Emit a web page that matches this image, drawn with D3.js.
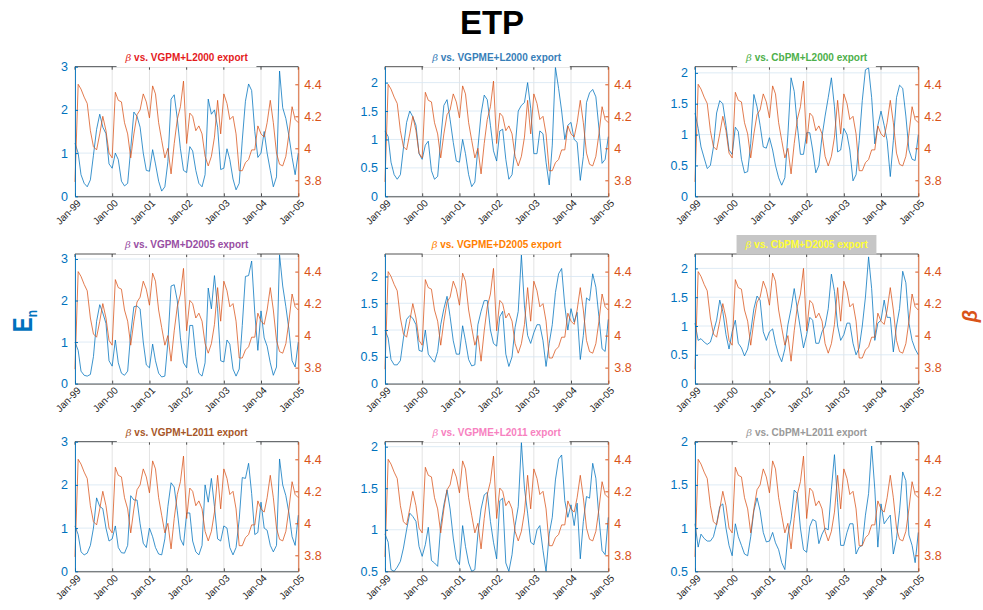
<!DOCTYPE html>
<html>
<head>
<meta charset="utf-8">
<script src="https://cdn.jsdelivr.net/npm/d3@7"></script>
<style>
  html, body { margin: 0; padding: 0; background: #fff; }
  svg { display: block; font-family: "Liberation Sans", Arial, Helvetica, sans-serif; }
</style>
</head>
<body>
<svg id="chart" width="983" height="610"></svg>
<script>
// ---- data -------------------------------------------------------------
// monthly time axis, Jan 1999 .. Jan 2005
const monthCount = 73;
const xTickLabels = ["Jan-99", "Jan-00", "Jan-01", "Jan-02", "Jan-03", "Jan-04", "Jan-05"];

const panelTitles = [
  "VGPM+L2000 export", "VGPME+L2000 export", "CbPM+L2000 export",
  "VGPM+D2005 export", "VGPME+D2005 export", "CbPM+D2005 export",
  "VGPM+L2011 export", "VGPME+L2011 export", "CbPM+L2011 export"
];
const titleColors = ["#e41a1c", "#377eb8", "#4daf4a", "#984ea3", "#ff7f00", "#ffff33", "#a65628", "#f781bf", "#999999"];
const titleBackgrounds = ["#ffffff", "#ffffff", "#ffffff", "#ffffff", "#ffffff", "#c6c6c6", "#ffffff", "#ffffff", "#ffffff"];

// β (right axis), identical in every panel
const beta = [
  3.79, 4.40, 4.37, 4.32, 4.28, 4.11, 4.01, 3.99, 4.09, 4.20, 4.11, 3.97,
  3.94, 4.35, 4.30, 4.29, 4.16, 4.09, 3.94, 4.09, 4.21, 4.24, 4.34, 4.29,
  4.19, 4.39, 4.34, 4.16, 4.05, 3.94, 4.00, 3.84, 4.03, 4.18, 4.26, 4.42,
  4.03, 4.22, 4.20, 4.11, 4.14, 4.09, 3.95, 3.89, 3.95, 4.07, 4.30, 4.09,
  4.34, 4.28, 4.18, 4.20, 4.09, 3.86, 3.86, 3.91, 3.93, 3.99, 3.99, 4.14,
  4.09, 4.07, 4.16, 4.30, 4.16, 3.97, 3.90, 3.89, 3.95, 4.09, 4.26, 4.18,
  4.16
];

// E_n (left axis), one series per export product
const enVgpmL2000 = [
  1.23, 1.00, 0.50, 0.30, 0.22, 0.38, 0.95, 1.55, 1.90, 1.60, 1.45, 0.75,
  0.65, 1.00, 0.85, 0.35, 0.24, 0.30, 1.10, 1.95, 1.85, 1.60, 1.00, 0.60,
  0.58, 1.08, 0.75, 0.35, 0.12, 0.22, 0.80, 2.25, 2.35, 1.80, 1.10, 0.60,
  0.55, 1.15, 1.05, 0.60, 0.30, 0.22, 0.50, 2.25, 1.90, 2.00, 1.60, 0.62,
  0.65, 1.10, 0.85, 0.40, 0.15, 0.30, 1.30, 2.20, 2.60, 2.45, 1.50, 0.90,
  1.00, 1.50, 1.00, 0.60, 0.22, 0.45, 2.90, 2.05, 1.80, 1.40, 0.90, 0.50,
  1.00
];
const enVgpmeL2000 = [
  1.15, 1.05, 0.60, 0.38, 0.30, 0.38, 0.85, 1.30, 1.50, 1.40, 1.25, 0.75,
  0.65, 0.90, 0.97, 0.45, 0.30, 0.35, 1.00, 1.60, 1.70, 1.35, 0.95, 0.62,
  0.60, 1.00, 0.75, 0.38, 0.17, 0.25, 0.85, 1.45, 1.78, 1.70, 1.25, 0.80,
  0.62, 1.15, 1.18, 0.65, 0.30, 0.38, 0.85, 1.50, 1.60, 1.65, 2.00, 1.55,
  0.75, 0.75, 1.15, 1.10, 0.60, 0.20, 0.90, 2.27, 1.90, 1.50, 1.00, 1.25,
  1.30, 1.00, 0.95, 0.28, 0.70, 1.65, 1.82, 1.88, 1.75, 1.20, 0.58, 0.65,
  1.05
];
const enCbpmL2000 = [
  1.35, 1.10, 0.80, 0.62, 0.45, 0.50, 0.80, 1.35, 1.55, 1.50, 1.15, 0.75,
  0.68, 1.12, 1.05, 0.60, 0.38, 0.40, 0.85, 1.65, 1.45, 1.15, 0.80, 0.78,
  0.95, 0.75, 0.50, 0.30, 0.18, 0.30, 1.00, 1.92, 1.70, 1.15, 0.68, 0.68,
  1.03, 1.03, 0.75, 0.38, 0.50, 0.97, 1.30, 1.60, 1.92, 1.45, 0.72, 0.75,
  1.10, 1.00, 0.75, 0.25, 0.35, 0.90, 1.55, 2.05, 2.08, 1.60, 0.85, 1.15,
  1.38, 1.15, 0.90, 0.32, 0.90, 1.60, 1.80, 1.75, 1.30, 0.75, 0.60, 0.58,
  1.00
];
const enVgpmD2005 = [
  1.00, 0.80, 0.30, 0.20, 0.18, 0.22, 0.65, 1.50, 1.90, 1.70, 1.45, 0.55,
  0.42, 1.05, 0.50, 0.25, 0.20, 0.30, 1.20, 1.85, 1.87, 1.80, 1.00, 0.45,
  0.38, 0.95, 0.55, 0.25, 0.16, 0.18, 1.00, 2.35, 2.38, 2.00, 1.10, 0.50,
  0.38, 1.40, 1.40, 0.65, 0.25, 0.18, 0.50, 2.30, 1.80, 2.60, 1.80, 0.55,
  0.52, 1.05, 0.95, 0.35, 0.18, 0.35, 1.40, 2.58, 2.60, 2.95, 1.70, 0.80,
  1.75, 1.10, 0.90, 0.50, 0.20, 0.40, 3.10, 2.35, 1.85, 1.30, 0.55, 0.40,
  1.00
];
const enVgpmeD2005 = [
  1.00, 0.85, 0.45, 0.35, 0.35, 0.43, 0.85, 1.20, 1.27, 1.22, 1.10, 0.62,
  0.60, 1.00, 0.55, 0.47, 0.40, 0.60, 1.10, 1.40, 1.63, 1.25, 0.80, 0.55,
  0.55, 1.08, 0.80, 0.45, 0.33, 0.35, 1.10, 1.35, 1.55, 1.55, 1.00, 0.75,
  0.70, 1.25, 1.35, 0.55, 0.32, 0.50, 1.05, 1.35, 2.40, 1.45, 0.90, 0.75,
  0.95, 1.10, 1.10, 0.80, 0.32, 0.75, 1.10, 1.70, 2.05, 2.15, 1.45, 1.00,
  1.40, 1.15, 1.33, 0.45, 0.90, 1.60, 1.55, 2.05, 1.80, 1.25, 0.65, 0.60,
  1.20
];
const enCbpmD2005 = [
  1.05, 0.75, 0.78, 0.72, 0.68, 0.72, 0.90, 1.10, 1.45, 1.25, 0.85, 0.60,
  0.90, 1.10, 0.70, 0.62, 0.48, 0.60, 0.90, 1.30, 1.52, 1.45, 0.90, 0.75,
  0.90, 0.95, 0.70, 0.50, 0.38, 0.60, 1.02, 1.30, 1.65, 1.30, 0.95, 0.62,
  0.85, 1.15, 1.10, 0.70, 0.70, 0.90, 1.00, 1.30, 1.90, 1.60, 1.00, 0.75,
  0.85, 1.05, 1.05, 0.70, 0.50, 0.62, 1.00, 1.50, 2.20, 1.65, 0.75, 1.05,
  1.10, 1.45, 1.15, 1.15, 0.55, 1.00, 1.30, 1.95, 1.75, 1.05, 0.75, 0.60,
  0.50
];
const enVgpmL2011 = [
  1.05, 0.85, 0.45, 0.38, 0.42, 0.60, 1.00, 1.70, 1.50, 1.45, 1.00, 0.70,
  0.75, 1.05, 0.55, 0.43, 0.42, 0.60, 1.75, 1.65, 1.65, 1.10, 0.65, 0.55,
  1.00, 0.80, 0.55, 0.40, 0.38, 0.75, 1.50, 2.05, 1.95, 1.40, 0.75, 0.60,
  1.35, 1.35, 0.70, 0.45, 0.38, 0.60, 2.00, 1.60, 2.15, 1.50, 0.75, 0.70,
  1.05, 1.00, 0.55, 0.38, 0.55, 1.20, 2.17, 2.15, 2.50, 1.80, 0.85, 0.90,
  1.60, 1.00, 0.95, 0.60, 0.45, 0.60, 2.60, 2.00, 1.75, 1.35, 0.80, 0.60,
  1.30
];
const enVgpmeL2011 = [
  0.95, 0.85, 0.52, 0.50, 0.55, 0.62, 0.78, 1.00, 1.20, 1.16, 1.10, 0.80,
  0.68, 0.82, 1.03, 0.63, 0.60, 0.56, 1.05, 1.30, 1.48, 1.25, 0.90, 0.65,
  0.58, 1.05, 0.80, 0.60, 0.50, 0.52, 0.95, 1.25, 1.42, 1.45, 1.10, 0.85,
  0.65, 1.35, 1.38, 0.60, 0.50, 0.70, 1.05, 1.28, 2.05, 1.50, 1.20, 0.85,
  0.82, 1.00, 1.05, 0.75, 0.50, 0.95, 1.15, 1.60, 1.85, 1.90, 1.35, 1.15,
  1.30, 1.05, 1.32, 0.65, 1.10, 1.40, 1.38, 1.80, 1.62, 1.15, 0.75, 0.70,
  1.15
];
const enCbpmL2011 = [
  1.05, 0.78, 0.93, 0.88, 0.85, 0.85, 0.90, 1.05, 1.25, 1.28, 1.00, 0.80,
  0.68, 1.05, 0.90, 0.80, 0.70, 0.68, 0.90, 1.20, 1.35, 1.20, 0.95, 0.84,
  0.85, 0.95, 0.83, 0.75, 0.60, 0.52, 0.92, 1.10, 1.44, 1.40, 1.00, 0.75,
  0.72, 1.02, 1.10, 1.08, 0.82, 0.93, 1.00, 0.98, 1.45, 1.85, 1.30, 0.80,
  0.80, 0.95, 1.05, 1.05, 0.70, 0.78, 0.80, 1.15, 1.40, 1.95, 1.45, 0.78,
  1.28, 1.05, 1.10, 1.15, 0.70, 0.88, 1.20, 1.65, 1.55, 0.92, 0.80, 0.60,
  0.95
];

const enSeries = [
  enVgpmL2000, enVgpmeL2000, enCbpmL2000,
  enVgpmD2005, enVgpmeD2005, enCbpmD2005,
  enVgpmL2011, enVgpmeL2011, enCbpmL2011
];
const leftDomains = [
  [0, 3], [0, 2.28], [0, 2.1],
  [0, 3.12], [0, 2.42], [0, 2.25],
  [0, 3], [0.5, 2.06], [0.5, 2.0]
];
const leftTicks = [
  [0, 1, 2, 3], [0, 0.5, 1, 1.5, 2], [0, 0.5, 1, 1.5, 2],
  [0, 1, 2, 3], [0, 0.5, 1, 1.5, 2], [0, 0.5, 1, 1.5, 2],
  [0, 1, 2, 3], [0.5, 1, 1.5, 2], [0.5, 1, 1.5, 2]
];
const rightDomain = [3.7, 4.51];
const rightTicks = [3.8, 4, 4.2, 4.4];

// ---- layout -----------------------------------------------------------
const colX = [75, 385, 695];
const rowY = [66.7, 254, 441.7];
const W = 223.3, H = 129.6;
const BLUE = "#0072BD", ORANGE = "#D95319", DARK = "#262626";

const svg = d3.select("#chart");
const months = d3.range(monthCount).map(i => new Date(1999, i, 1));
const xTickDates = d3.range(1999, 2006).map(y => new Date(y, 0, 1));

const x = d3.scaleTime()
  .domain([new Date(1999, 0, 1), new Date(2005, 0, 1)])
  .range([0, W]);
const yR = d3.scaleLinear().domain(rightDomain).range([H, 0]);

panelTitles.forEach((title, k) => {
  const col = k % 3, row = Math.floor(k / 3);
  const g = svg.append("g").attr("transform", `translate(${colX[col]},${rowY[row]})`);
  const yL = d3.scaleLinear().domain(leftDomains[k]).range([H, 0]);

  // grid
  g.append("g").selectAll("line").data(xTickDates).join("line")
    .attr("x1", d => x(d)).attr("x2", d => x(d))
    .attr("y1", 0).attr("y2", H)
    .attr("stroke", "#dcdcdc").attr("stroke-width", 0.8);
  g.append("g").selectAll("line").data(leftTicks[k]).join("line")
    .attr("x1", 0).attr("x2", W)
    .attr("y1", d => yL(d)).attr("y2", d => yL(d))
    .attr("stroke", "#d6e6f3").attr("stroke-width", 0.8);

  // series
  const enLine = d3.line().x((d, i) => x(months[i])).y(d => yL(d));
  const betaLine = d3.line().x((d, i) => x(months[i])).y(d => yR(d));
  g.append("path").datum(enSeries[k])
    .attr("d", enLine).attr("fill", "none")
    .attr("stroke", BLUE).attr("stroke-width", 0.9).attr("stroke-opacity", 0.85);
  g.append("path").datum(beta)
    .attr("d", betaLine).attr("fill", "none")
    .attr("stroke", ORANGE).attr("stroke-width", 0.9).attr("stroke-opacity", 0.85);

  // top edge with inward ticks
  g.append("line").attr("x1", 0).attr("x2", W).attr("y1", 0).attr("y2", 0)
    .attr("stroke", DARK).attr("stroke-width", 0.8);
  g.append("g").selectAll("line").data(xTickDates).join("line")
    .attr("x1", d => x(d)).attr("x2", d => x(d)).attr("y1", 0).attr("y2", 3)
    .attr("stroke", DARK).attr("stroke-width", 0.8);

  // bottom axis
  const xa = g.append("g").attr("transform", `translate(0,${H})`)
    .call(d3.axisBottom(x).tickValues(xTickDates)
      .tickFormat((d, i) => xTickLabels[i]).tickSize(-3).tickSizeOuter(0));
  xa.select(".domain").attr("stroke", DARK).attr("stroke-width", 0.8);
  xa.selectAll(".tick line").attr("stroke", DARK).attr("stroke-width", 0.8);
  xa.selectAll(".tick text")
    .attr("fill", DARK).attr("font-size", 10)
    .attr("text-anchor", "end")
    .attr("x", -1).attr("y", 6).attr("dy", "0.35em")
    .attr("transform", "rotate(-45)");

  // left axis
  const la = g.append("g")
    .call(d3.axisLeft(yL).tickValues(leftTicks[k]).tickFormat(d3.format("~g"))
      .tickSize(-3).tickSizeOuter(0).tickPadding(7));
  la.select(".domain").attr("stroke", BLUE).attr("stroke-width", 0.9);
  la.selectAll(".tick line").attr("stroke", BLUE);
  la.selectAll(".tick text").attr("fill", BLUE).attr("font-size", 12.5);

  // right axis
  const ra = g.append("g").attr("transform", `translate(${W},0)`)
    .call(d3.axisRight(yR).tickValues(rightTicks).tickFormat(d3.format("~g"))
      .tickSize(-3).tickSizeOuter(0).tickPadding(6));
  ra.select(".domain").attr("stroke", ORANGE).attr("stroke-width", 0.9);
  ra.selectAll(".tick line").attr("stroke", ORANGE);
  ra.selectAll(".tick text").attr("fill", ORANGE).attr("font-size", 12.5);

  // panel title on its own box
  const tg = g.append("g");
  const bg = tg.append("rect");
  const tt = tg.append("text")
    .attr("x", W / 2).attr("y", -6)
    .attr("text-anchor", "middle")
    .attr("font-size", 10).attr("font-weight", "bold")
    .attr("fill", titleColors[k]);
  tt.append("tspan").attr("font-style", "italic").attr("font-weight", "normal")
    .attr("font-family", "'DejaVu Serif', serif").text("\u03B2");
  tt.append("tspan").text(" vs. " + title);
  const bb = tt.node().getBBox();
  bg.attr("x", bb.x - 8).attr("width", bb.width + 16)
    .attr("y", -19).attr("height", 19.6)
    .attr("fill", titleBackgrounds[k]);
});

// figure title
svg.append("text").attr("x", 492).attr("y", 34).attr("text-anchor", "middle")
  .attr("font-size", 33).attr("font-weight", "bold").attr("fill", "#000")
  .text("ETP");

// shared left label: E_n
const yl = svg.append("g").attr("transform", "translate(31.5,321) rotate(-90) scale(0.8,1)")
  .append("text").attr("text-anchor", "middle")
  .attr("font-weight", "bold").attr("fill", BLUE);
yl.append("tspan").attr("font-size", 28).text("E");
yl.append("tspan").attr("font-size", 15).attr("dy", 5).text("n");

// shared right label: β
svg.append("g").attr("transform", "translate(977,316) rotate(-90)")
  .append("text").attr("text-anchor", "middle")
  .attr("font-size", 20).attr("font-weight", "bold").attr("font-style", "italic")
  .attr("fill", ORANGE).text("\u03B2");
</script>
</body>
</html>
